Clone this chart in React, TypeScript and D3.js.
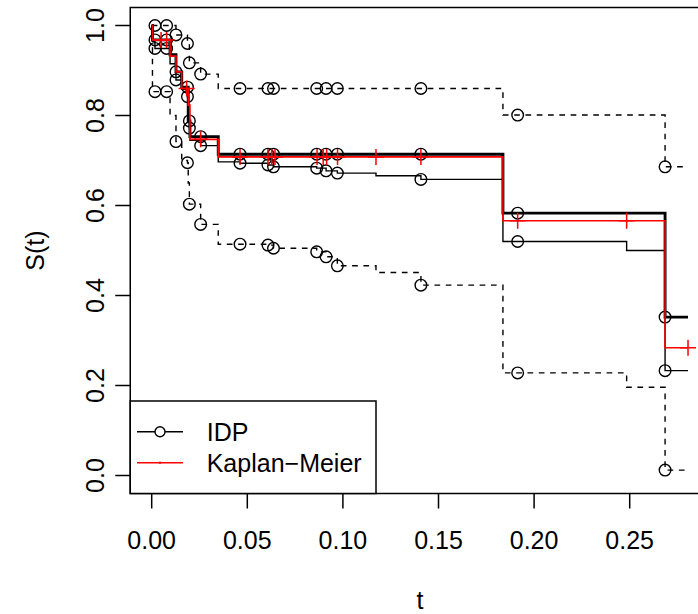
import React from "react";
import * as d3 from "d3";

const W = 698;
const H = 614;
const FONT = "'Liberation Sans', Arial, Helvetica, sans-serif";

const X_TICKS = [0, 0.05, 0.1, 0.15, 0.2, 0.25];
const X_TICK_LABELS = ["0.00", "0.05", "0.10", "0.15", "0.20", "0.25"];
const Y_TICKS = [0, 0.2, 0.4, 0.6, 0.8, 1.0];
const Y_TICK_LABELS = ["0.0", "0.2", "0.4", "0.6", "0.8", "1.0"];
const T_END = 0.2805;

// Kaplan-Meier (red)
const kmTimes = [0, 0.0004, 0.0096, 0.0127, 0.0157, 0.0191, 0.02, 0.0348, 0.1837, 0.2685];
const kmSurv = [1.0, 0.968, 0.932, 0.897, 0.86, 0.823, 0.747, 0.708, 0.566, 0.284];
const kmCensorTimes = [0.0049, 0.0078, 0.0183, 0.0256, 0.0462, 0.0608, 0.0628, 0.0645, 0.0865, 0.0897, 0.0915, 0.0972, 0.1173, 0.1408, 0.1914, 0.2484, 0.2805];

// IDP upper expectation (thick)
const idpUpperTimes = [0, 0.0004, 0.0096, 0.0127, 0.0157, 0.0191, 0.02, 0.0348, 0.1837, 0.2685];
const idpUpperSurv = [1.0, 0.968, 0.935, 0.897, 0.863, 0.788, 0.753, 0.714, 0.583, 0.352];

// IDP lower expectation (thin)
const idpLowerTimes = [0, 0.0004, 0.0017, 0.0096, 0.0127, 0.0157, 0.0187, 0.0191, 0.0197, 0.02, 0.0256, 0.0348, 0.0462, 0.0608, 0.0637, 0.0863, 0.0912, 0.0971, 0.1173, 0.1408, 0.1837, 0.2484, 0.2685];
const idpLowerSurv = [1.0, 0.965, 0.949, 0.915, 0.879, 0.858, 0.842, 0.8, 0.772, 0.745, 0.733, 0.697, 0.694, 0.69, 0.686, 0.683, 0.677, 0.672, 0.666, 0.658, 0.52, 0.5, 0.233];

// upper credible bound (dashed)
const bandUpperTimes = [0, 0.0127, 0.0187, 0.0197, 0.0256, 0.0348, 0.1837, 0.2685];
const bandUpperSurv = [1.0, 0.979, 0.96, 0.917, 0.892, 0.86, 0.801, 0.686];

// lower credible bound (dashed)
const bandLowerTimes = [0, 0.0004, 0.0096, 0.0127, 0.0157, 0.0187, 0.0191, 0.0197, 0.0256, 0.0348, 0.0608, 0.0637, 0.0863, 0.0912, 0.0971, 0.1173, 0.1408, 0.1837, 0.2484, 0.2685];
const bandLowerSurv = [1.0, 0.853, 0.8, 0.742, 0.7, 0.695, 0.65, 0.603, 0.558, 0.514, 0.512, 0.505, 0.497, 0.486, 0.466, 0.451, 0.423, 0.228, 0.196, 0.012];

// times marked with circles on the IDP curves
const circleTimes = [0.0017, 0.0078, 0.0127, 0.0187, 0.0197, 0.0256, 0.0462, 0.0608, 0.0637, 0.0863, 0.0912, 0.0971, 0.1408, 0.1914, 0.2685];

const LEGEND_LABELS = ["IDP", "Kaplan\u2212Meier"];

function stepValue(times: number[], surv: number[], t: number) {
  const i = d3.bisectRight(times, t) - 1;
  return surv[Math.max(0, i)];
}

export default function App() {
  const x = d3.scaleLinear().domain([0, 0.25]).range([151.7, 629.7]);
  const y = d3.scaleLinear().domain([0, 1]).range([475.5, 25.5]);
  const boxL = x(-0.04 * T_END);
  const boxR = x(T_END * 1.04);
  const boxT = y(1.04);
  const boxB = y(-0.04);

  const line = d3
    .line<[number, number]>()
    .x((d) => x(d[0]))
    .y((d) => y(d[1]))
    .curve(d3.curveStepAfter);

  const pathFor = (times: number[], surv: number[]) => {
    const pts: [number, number][] = times.map((t, i) => [t, surv[i]]);
    pts.push([T_END, surv[surv.length - 1]]);
    return line(pts) || "";
  };

  const curves = [
    { times: bandUpperTimes, surv: bandUpperSurv, w: 1.4, dash: "5.7,5.6" },
    { times: bandLowerTimes, surv: bandLowerSurv, w: 1.4, dash: "5.7,5.6" },
    { times: idpLowerTimes, surv: idpLowerSurv, w: 1.4, dash: undefined },
    { times: idpUpperTimes, surv: idpUpperSurv, w: 2.9, dash: undefined },
  ];

  const R = 5.8;

  return (
    <svg
      width={W}
      height={H}
      style={{ position: "absolute", left: 0, top: 0, background: "#fff" }}
      fontFamily={FONT}
    >
      <defs>
        <clipPath id="plotclip">
          <rect x={boxL} y={boxT} width={boxR - boxL} height={boxB - boxT} />
        </clipPath>
      </defs>
      <rect x={0} y={0} width={W} height={H} fill="#fff" />
      <g clipPath="url(#plotclip)">
        {curves.map((c, i) => (
          <path
            key={"c" + i}
            d={pathFor(c.times, c.surv)}
            fill="none"
            stroke="#000"
            strokeWidth={c.w}
            strokeDasharray={c.dash}
          />
        ))}
        {curves.map((c, i) =>
          circleTimes.map((t, j) => (
            <circle
              key={"p" + i + "-" + j}
              cx={x(t)}
              cy={y(stepValue(c.times, c.surv, t))}
              r={R}
              fill="none"
              stroke="#000"
              strokeWidth={1.4}
            />
          ))
        )}
        <path d={pathFor(kmTimes, kmSurv)} fill="none" stroke="#ff0000" strokeWidth={1.6} />
        {kmCensorTimes.map((t, j) => {
          const cx = x(t);
          const cy = y(stepValue(kmTimes, kmSurv, t));
          return (
            <g key={"k" + j} stroke="#ff0000" strokeWidth={1.5}>
              <line x1={cx - 8} x2={cx + 8} y1={cy} y2={cy} />
              <line x1={cx} x2={cx} y1={cy - 8} y2={cy + 8} />
            </g>
          );
        })}
      </g>

      {/* box */}
      <rect x={boxL} y={boxT} width={boxR - boxL} height={boxB - boxT} fill="none" stroke="#000" strokeWidth={1.5} />

      {/* x axis */}
      {X_TICKS.map((t, i) => (
        <g key={"xt" + i}>
          <line x1={x(t)} x2={x(t)} y1={boxB} y2={boxB + 15} stroke="#000" strokeWidth={1.5} />
          <text x={x(t)} y={549.3} fontSize={25} textAnchor="middle">
            {X_TICK_LABELS[i]}
          </text>
        </g>
      ))}
      {/* y axis */}
      {Y_TICKS.map((v, i) => (
        <g key={"yt" + i}>
          <line x1={boxL - 15} x2={boxL} y1={y(v)} y2={y(v)} stroke="#000" strokeWidth={1.5} />
          <text
            transform={`translate(104,${y(v)}) rotate(-90)`}
            fontSize={25}
            textAnchor="middle"
          >
            {Y_TICK_LABELS[i]}
          </text>
        </g>
      ))}
      <text x={(boxL + boxR) / 2} y={609} fontSize={25} textAnchor="middle">
        t
      </text>
      <text transform={`translate(44,${(boxT + boxB) / 2}) rotate(-90)`} fontSize={25} textAnchor="middle">
        S(t)
      </text>

      {/* legend */}
      <rect x={boxL} y={401} width={376 - boxL} height={boxB - 401} fill="#fff" stroke="#000" strokeWidth={1.5} />
      <line x1={137} x2={183} y1={431.7} y2={431.7} stroke="#000" strokeWidth={1.4} />
      <circle cx={160} cy={431.7} r={5} fill="#fff" stroke="#000" strokeWidth={1.4} />
      <line x1={137} x2={183} y1={462.7} y2={462.7} stroke="#ff0000" strokeWidth={1.4} />
      <rect x={159} y={461.7} width={2} height={2} fill="#ff0000" />
      <text x={206.7} y={440.7} fontSize={25}>
        {LEGEND_LABELS[0]}
      </text>
      <text x={206.7} y={471.7} fontSize={25}>
        {LEGEND_LABELS[1]}
      </text>
    </svg>
  );
}
